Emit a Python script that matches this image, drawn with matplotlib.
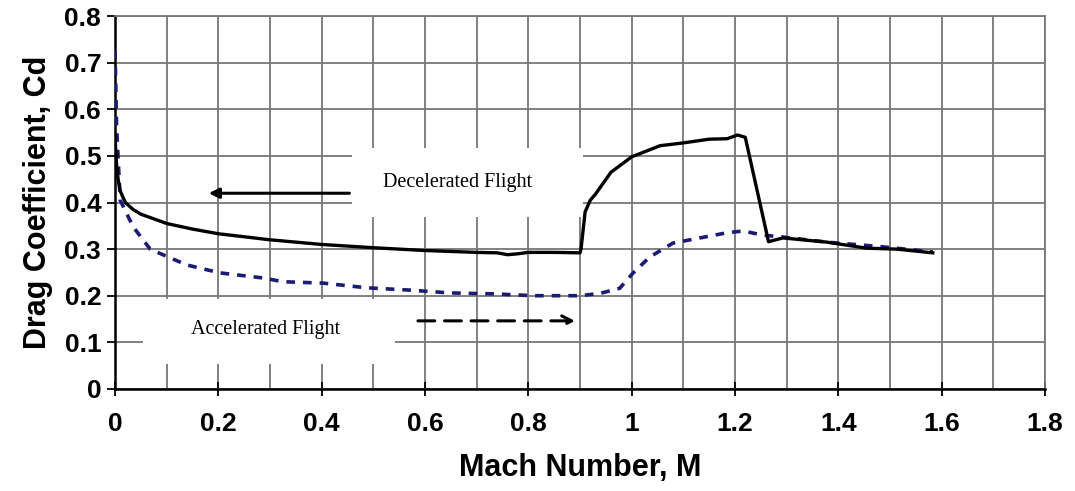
import matplotlib.pyplot as plt
from matplotlib.patches import Rectangle

# -----------------------------------------------------
# DATA
# -----------------------------------------------------
mach_decel = [0.0, 0.001, 0.003, 0.006, 0.01, 0.02, 0.035, 0.05, 0.075, 0.1, 0.15,
              0.2, 0.3, 0.4, 0.5, 0.6, 0.7, 0.74, 0.76, 0.78, 0.8, 0.85, 0.9,
              0.902, 0.91, 0.92, 0.93, 0.96, 1.0, 1.055, 1.1, 1.15, 1.185, 1.205,
              1.22, 1.265, 1.293, 1.378, 1.455, 1.513, 1.583]
cd_decel = [0.545, 0.52, 0.48, 0.45, 0.425, 0.40, 0.385, 0.375, 0.365, 0.355, 0.343,
            0.333, 0.320, 0.310, 0.303, 0.297, 0.293, 0.292, 0.288, 0.290, 0.293, 0.293, 0.292,
            0.30, 0.38, 0.405, 0.418, 0.465, 0.498, 0.522, 0.528, 0.536, 0.537, 0.545,
            0.54, 0.316, 0.324, 0.315, 0.302, 0.300, 0.292]

mach_accel = [0.0, 0.003, 0.01, 0.035, 0.068, 0.103, 0.139, 0.203, 0.287, 0.325,
              0.403, 0.487, 0.571, 0.648, 0.732, 0.81, 0.9, 0.939, 0.977, 1.003,
              1.035, 1.08, 1.132, 1.184, 1.216, 1.254, 1.293, 1.378, 1.486, 1.583]
cd_accel = [0.727, 0.563, 0.405, 0.348, 0.300, 0.283, 0.266, 0.249, 0.238, 0.230,
            0.227, 0.217, 0.212, 0.206, 0.204, 0.200, 0.200, 0.205, 0.216, 0.249,
            0.283, 0.313, 0.324, 0.335, 0.339, 0.330, 0.326, 0.315, 0.305, 0.294]

x_ticks = [0, 0.2, 0.4, 0.6, 0.8, 1.0, 1.2, 1.4, 1.6, 1.8]
x_labels = ["0", "0.2", "0.4", "0.6", "0.8", "1", "1.2", "1.4", "1.6", "1.8"]
y_ticks = [0, 0.1, 0.2, 0.3, 0.4, 0.5, 0.6, 0.7, 0.8]
y_labels = ["0", "0.1", "0.2", "0.3", "0.4", "0.5", "0.6", "0.7", "0.8"]

# -----------------------------------------------------
# FIGURE
# -----------------------------------------------------
plt.rcParams["font.family"] = ["Liberation Sans", "DejaVu Sans"]

fig = plt.figure(figsize=(10.75, 4.91), dpi=100)
ax = fig.add_axes([0.107, 0.208, 0.865, 0.759])

ax.set_xlim(0, 1.8)
ax.set_ylim(0, 0.8)

# grid every 0.1 in both directions
ax.set_xticks([i / 10 for i in range(19)], minor=True)
ax.set_xticks(x_ticks)
ax.set_xticklabels(x_labels)
ax.set_yticks(y_ticks)
ax.set_yticklabels(y_labels)
ax.set_axisbelow(True)
ax.grid(which="both", color="#777777", linewidth=1.3)

ax.tick_params(axis="x", which="major", direction="inout", length=10, width=1.3,
               labelsize=19, pad=12)
ax.tick_params(axis="x", which="minor", length=0)
ax.tick_params(axis="y", direction="out", length=6, width=1.3, labelsize=19, pad=4)
for lab in ax.get_xticklabels() + ax.get_yticklabels():
    lab.set_fontweight("bold")

for side in ["left", "bottom"]:
    ax.spines[side].set_color("black")
    ax.spines[side].set_linewidth(1.8)
for side in ["top", "right"]:
    ax.spines[side].set_color("#777777")
    ax.spines[side].set_linewidth(1.3)

# white label boxes hide the grid behind the text
ax.add_patch(Rectangle((0.459, 0.369), 0.447, 0.148, facecolor="white",
                       edgecolor="none", zorder=1))
ax.add_patch(Rectangle((0.054, 0.054), 0.488, 0.139, facecolor="white",
                       edgecolor="none", zorder=1))

# curves
ax.plot(mach_accel, cd_accel, color="#1b1b72", linewidth=2.6,
        linestyle=(0, (2.4, 2.2)), zorder=3)
ax.plot(mach_decel, cd_decel, color="black", linewidth=2.4, zorder=4)

# arrows and annotations
ax.annotate("", xy=(0.176, 0.42), xytext=(0.459, 0.42),
            arrowprops=dict(arrowstyle="-|>", color="black", lw=2.2,
                            mutation_scale=15), zorder=5)
ax.annotate("", xy=(0.896, 0.146), xytext=(0.581, 0.146),
            arrowprops=dict(arrowstyle="->", color="black", lw=2.2,
                            linestyle=(0, (5.5, 3.2)), mutation_scale=18), zorder=5)

ax.text(0.664, 0.444, "Decelerated Flight", family=["Liberation Serif", "DejaVu Serif"],
        fontsize=14.5, ha="center", va="center", zorder=5)
ax.text(0.292, 0.127, "Accelerated Flight", family=["Liberation Serif", "DejaVu Serif"],
        fontsize=14.5, ha="center", va="center", zorder=5)

ax.set_xlabel("Mach Number, M", fontsize=22, fontweight="bold", labelpad=12)
ax.set_ylabel("Drag Coefficient, Cd", fontsize=22, fontweight="bold", labelpad=8)

fig.savefig("out.png", dpi=100)
